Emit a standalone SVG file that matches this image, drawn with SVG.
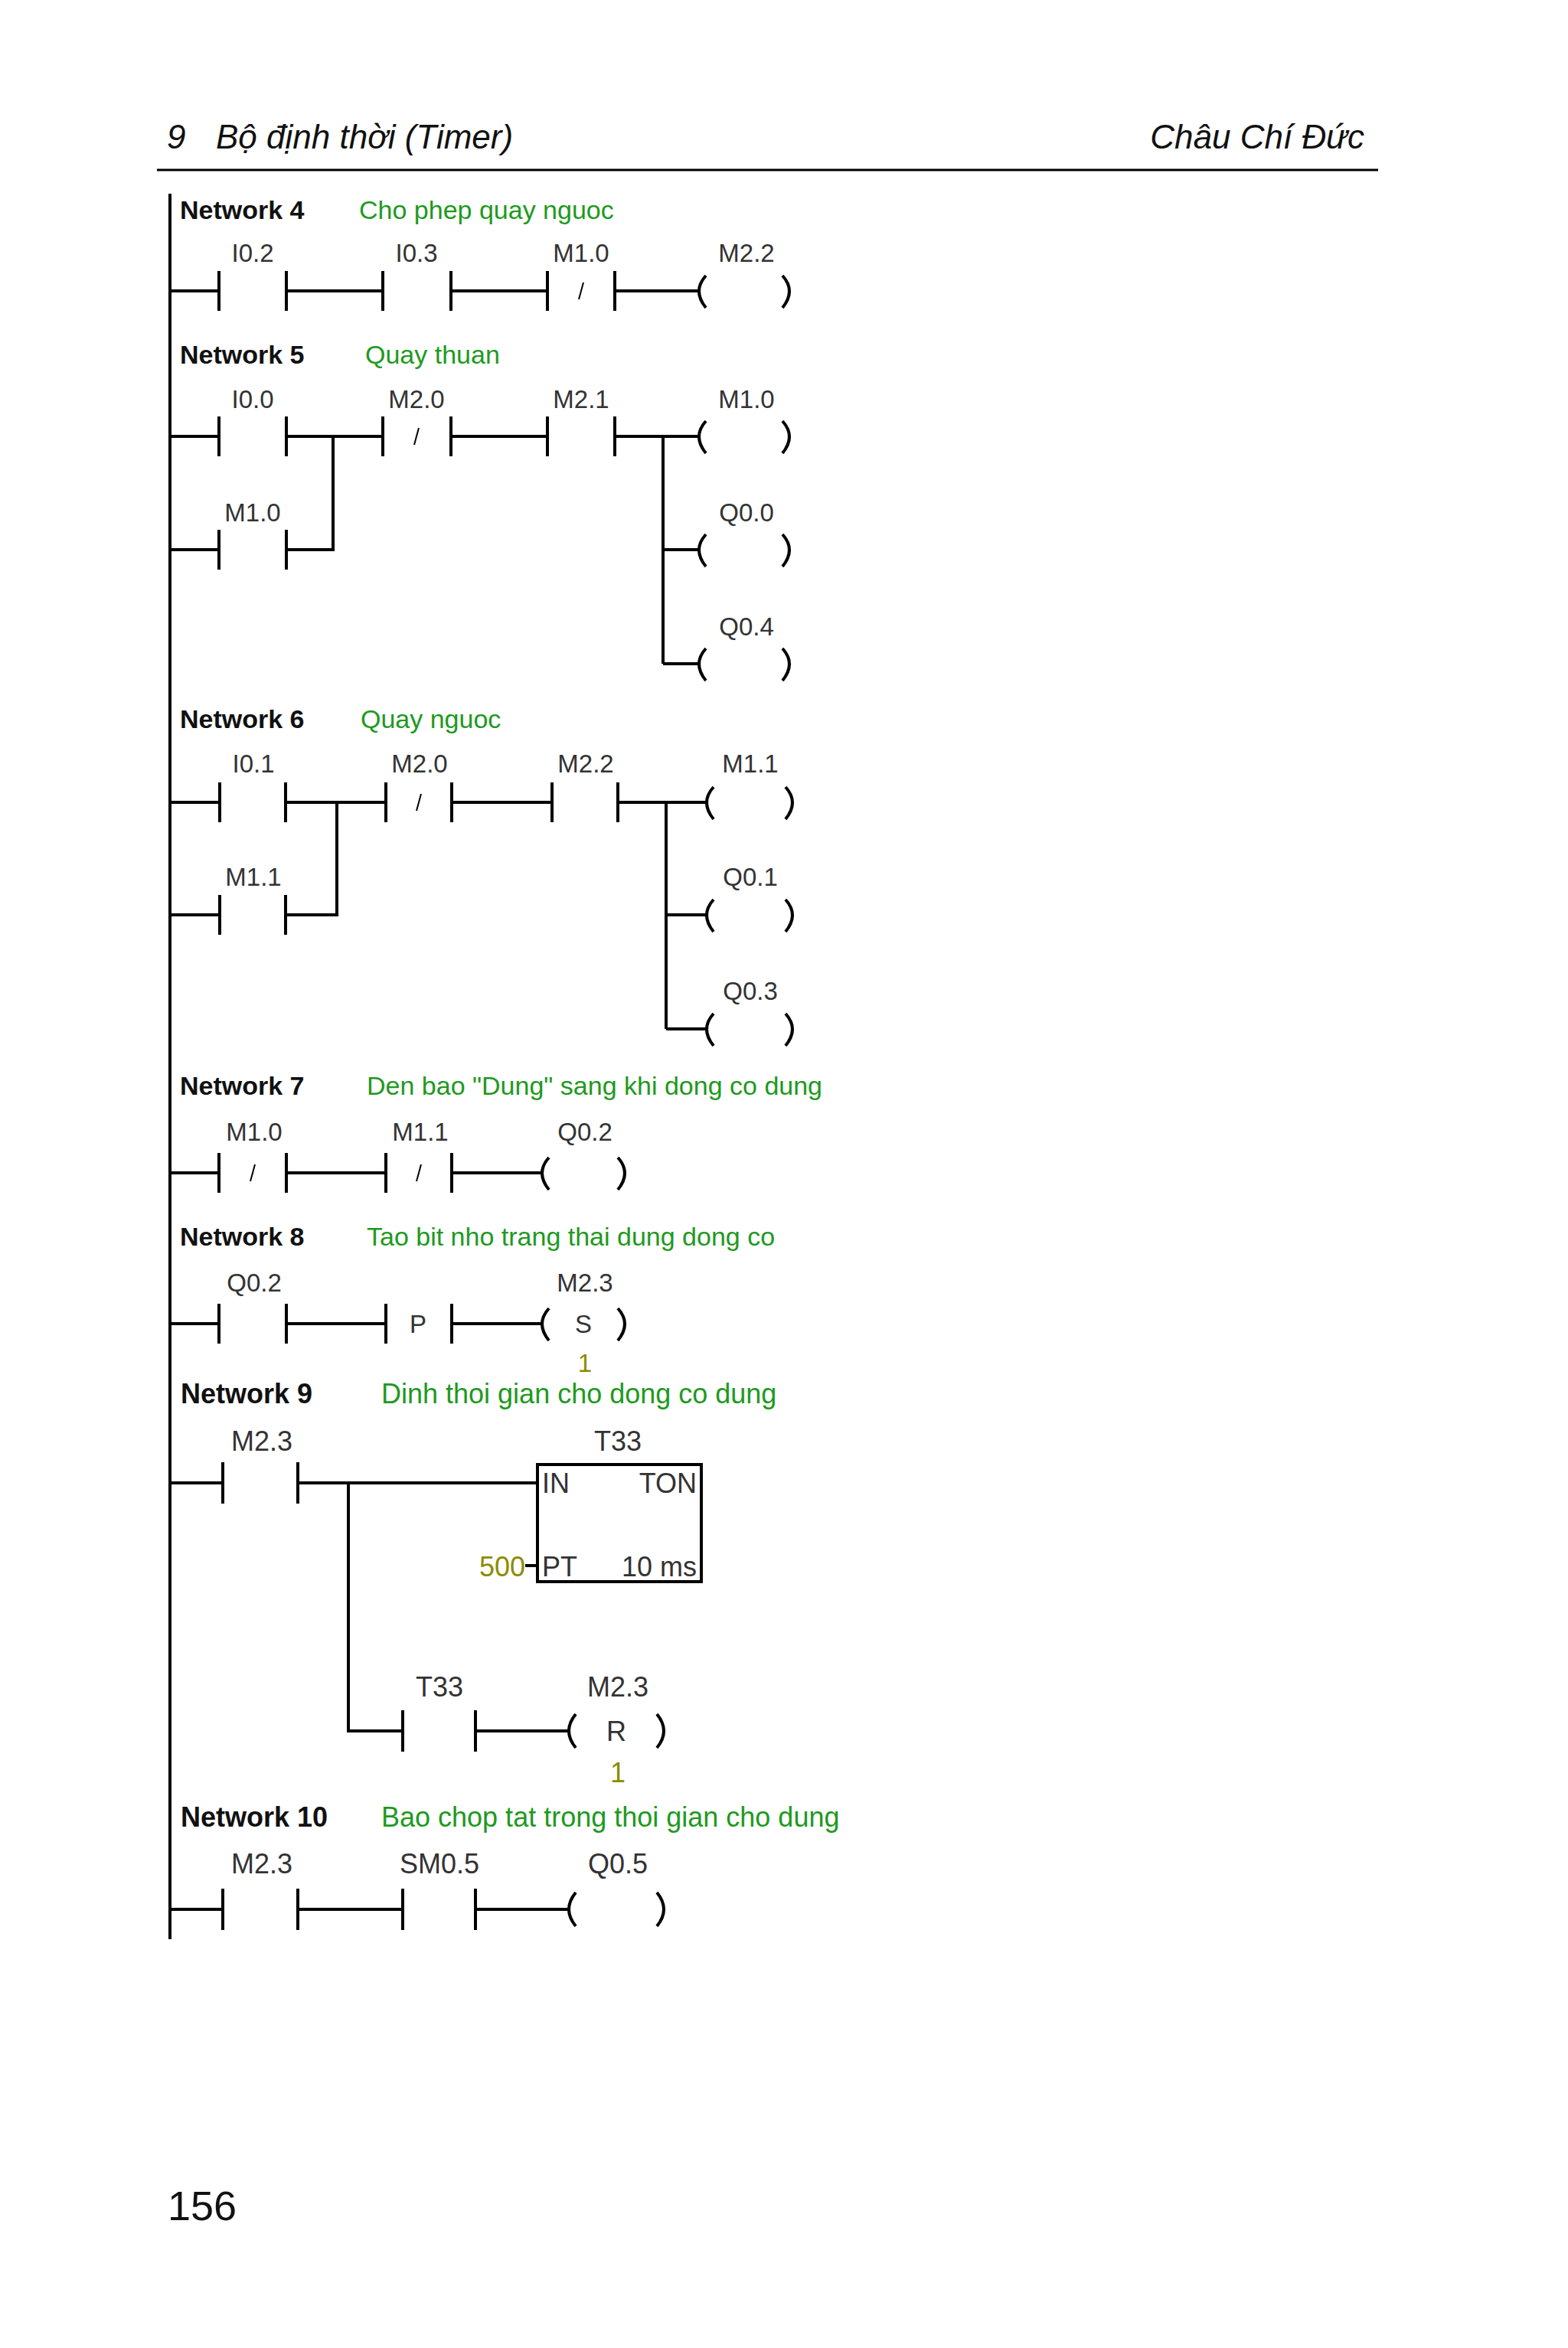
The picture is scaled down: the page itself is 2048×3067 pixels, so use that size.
<svg xmlns="http://www.w3.org/2000/svg" width="2048" height="3067" viewBox="0 0 2048 3067">
<style>
.w{stroke:#000;stroke-width:4;fill:none}
.s{stroke:#000;stroke-width:2;fill:none}
.nl{font-family:"Liberation Sans",Arial,sans-serif;font-weight:bold;font-size:34px;fill:#111}
.cm{font-family:"Liberation Sans",Arial,sans-serif;font-size:34px;fill:#1e9a1e}
.lb{font-family:"Liberation Sans",Arial,sans-serif;font-size:33px;fill:#333;text-anchor:middle}
.ol{font-family:"Liberation Sans",Arial,sans-serif;font-size:33px;fill:#8c8c00}
.big .nl{font-size:36px}
.big .cm{font-size:36px}
.big .lb,.big .ol{font-size:36px}
.hd{font-family:"Liberation Sans",Arial,sans-serif;font-style:italic;font-size:44px;fill:#111}
</style>
<rect width="2048" height="3067" fill="#fff"/>
<g id="header">
<text class="hd" x="218" y="194">9</text>
<text class="hd" x="282" y="194">Bộ định thời (Timer)</text>
<text class="hd" x="1782" y="194" text-anchor="end">Châu Chí Đức</text>
<line x1="205" y1="222" x2="1800" y2="222" stroke="#000" stroke-width="3"/>
<text x="219" y="2900" font-family="Liberation Sans,Arial,sans-serif" font-size="54" fill="#111">156</text>
</g>
<g id="rail"><line class="w" x1="222" y1="253" x2="222" y2="2533"/></g>
<g id="connectors">
<path class="w" d="M222 380H286M374 380H500M589 380H715M803 380H912"/>
<path class="w" d="M222 570H286M374 570H500M589 570H715M803 570H912M222 718H286M374 718H435V570M866 570V867M866 718H912M866 867H912"/>
<path class="w" d="M222 1048H287M373 1048H504M590 1048H721M807 1048H922M222 1195H287M373 1195H440V1048M870 1048V1344M870 1195H922M870 1344H922"/>
<path class="w" d="M222 1532H286M374 1532H504M590 1532H707"/>
<path class="w" d="M222 1729H286M374 1729H504M590 1729H707"/>
<path class="w" d="M222 1937H291M389 1937H702M455 1937V2261H526M621 2261H742M686 2045H702"/>
<path class="w" d="M222 2494H291M389 2494H526M621 2494H742"/>
</g>
<g id="n4">
<text class="nl" x="235" y="286">Network 4</text><text class="cm" x="469" y="286">Cho phep quay nguoc</text>
<path class="w" d="M286 354V406M374 354V406M500 354V406M589 354V406M715 354V406M803 354V406"/>
<line class="s" x1="762" y1="369" x2="756" y2="391"/>
<path class="w" d="M922 360Q904 380 922 402M1022 360Q1040 380 1022 402"/>
<text class="lb" x="330" y="342">I0.2</text><text class="lb" x="544" y="342">I0.3</text><text class="lb" x="759" y="342">M1.0</text><text class="lb" x="975" y="342">M2.2</text>
</g>
<g id="n5">
<text class="nl" x="235" y="475">Network 5</text><text class="cm" x="477" y="475">Quay thuan</text>
<path class="w" d="M286 544V596M374 544V596M500 544V596M589 544V596M715 544V596M803 544V596M286 692V744M374 692V744"/>
<line class="s" x1="547" y1="559" x2="541" y2="581"/>
<path class="w" d="M922 550Q904 570 922 592M1022 550Q1040 570 1022 592M922 698Q904 718 922 740M1022 698Q1040 718 1022 740M922 847Q904 867 922 889M1022 847Q1040 867 1022 889"/>
<text class="lb" x="330" y="533">I0.0</text><text class="lb" x="544" y="533">M2.0</text><text class="lb" x="759" y="533">M2.1</text><text class="lb" x="975" y="533">M1.0</text>
<text class="lb" x="330" y="681">M1.0</text><text class="lb" x="975" y="681">Q0.0</text><text class="lb" x="975" y="830">Q0.4</text>
</g>
<g id="n6">
<text class="nl" x="235" y="951">Network 6</text><text class="cm" x="471" y="951">Quay nguoc</text>
<path class="w" d="M287 1022V1074M373 1022V1074M504 1022V1074M590 1022V1074M721 1022V1074M807 1022V1074M287 1169V1221M373 1169V1221"/>
<line class="s" x1="550" y1="1037" x2="544" y2="1059"/>
<path class="w" d="M932 1028Q914 1048 932 1070M1026 1028Q1044 1048 1026 1070M932 1175Q914 1195 932 1217M1026 1175Q1044 1195 1026 1217M932 1324Q914 1344 932 1366M1026 1324Q1044 1344 1026 1366"/>
<text class="lb" x="331" y="1009">I0.1</text><text class="lb" x="548" y="1009">M2.0</text><text class="lb" x="765" y="1009">M2.2</text><text class="lb" x="980" y="1009">M1.1</text>
<text class="lb" x="331" y="1157">M1.1</text><text class="lb" x="980" y="1157">Q0.1</text><text class="lb" x="980" y="1306">Q0.3</text>
</g>
<g id="n7">
<text class="nl" x="235" y="1430">Network 7</text><text class="cm" x="479" y="1430">Den bao "Dung" sang khi dong co dung</text>
<path class="w" d="M286 1506V1558M374 1506V1558M504 1506V1558M590 1506V1558"/>
<line class="s" x1="333" y1="1521" x2="327" y2="1543"/><line class="s" x1="550" y1="1521" x2="544" y2="1543"/>
<path class="w" d="M717 1512Q699 1532 717 1554M807 1512Q825 1532 807 1554"/>
<text class="lb" x="332" y="1490">M1.0</text><text class="lb" x="549" y="1490">M1.1</text><text class="lb" x="764" y="1490">Q0.2</text>
</g>
<g id="n8">
<text class="nl" x="235" y="1627">Network 8</text><text class="cm" x="479" y="1627">Tao bit nho trang thai dung dong co</text>
<path class="w" d="M286 1703V1755M374 1703V1755M504 1703V1755M590 1703V1755"/>
<text class="lb" x="546" y="1741">P</text>
<path class="w" d="M717 1709Q699 1729 717 1751M807 1709Q825 1729 807 1751"/>
<text class="lb" x="762" y="1741">S</text>
<text class="lb" x="332" y="1687">Q0.2</text><text class="lb" x="764" y="1687">M2.3</text>
<text class="ol" x="764" y="1792" text-anchor="middle">1</text>
</g>
<g id="n9" class="big">
<text class="nl" x="236" y="1833">Network 9</text><text class="cm" x="498" y="1833">Dinh thoi gian cho dong co dung</text>
<path class="w" d="M291 1910V1964M389 1910V1964M526 2234V2288M621 2234V2288"/>
<rect x="702" y="1913" width="214" height="153" class="w"/>
<text class="lb" x="342" y="1895">M2.3</text><text class="lb" x="807" y="1895">T33</text>
<text class="lb" x="708" y="1950" style="text-anchor:start">IN</text>
<text class="lb" x="910" y="1950" style="text-anchor:end">TON</text>
<text class="lb" x="708" y="2059" style="text-anchor:start">PT</text>
<text class="lb" x="910" y="2059" style="text-anchor:end">10 ms</text>
<text class="ol" x="686" y="2059" text-anchor="end">500</text>
<path class="w" d="M752 2239Q734 2261 752 2283M858 2239Q876 2261 858 2283"/>
<text class="lb" x="805" y="2274">R</text>
<text class="lb" x="574" y="2216">T33</text><text class="lb" x="807" y="2216">M2.3</text>
<text class="ol" x="807" y="2328" text-anchor="middle">1</text>
</g>
<g id="n10" class="big">
<text class="nl" x="236" y="2386">Network 10</text><text class="cm" x="498" y="2386">Bao chop tat trong thoi gian cho dung</text>
<path class="w" d="M291 2467V2521M389 2467V2521M526 2467V2521M621 2467V2521"/>
<path class="w" d="M752 2472Q734 2494 752 2516M858 2472Q876 2494 858 2516"/>
<text class="lb" x="342" y="2447">M2.3</text><text class="lb" x="574" y="2447">SM0.5</text><text class="lb" x="807" y="2447">Q0.5</text>
</g>
</svg>
